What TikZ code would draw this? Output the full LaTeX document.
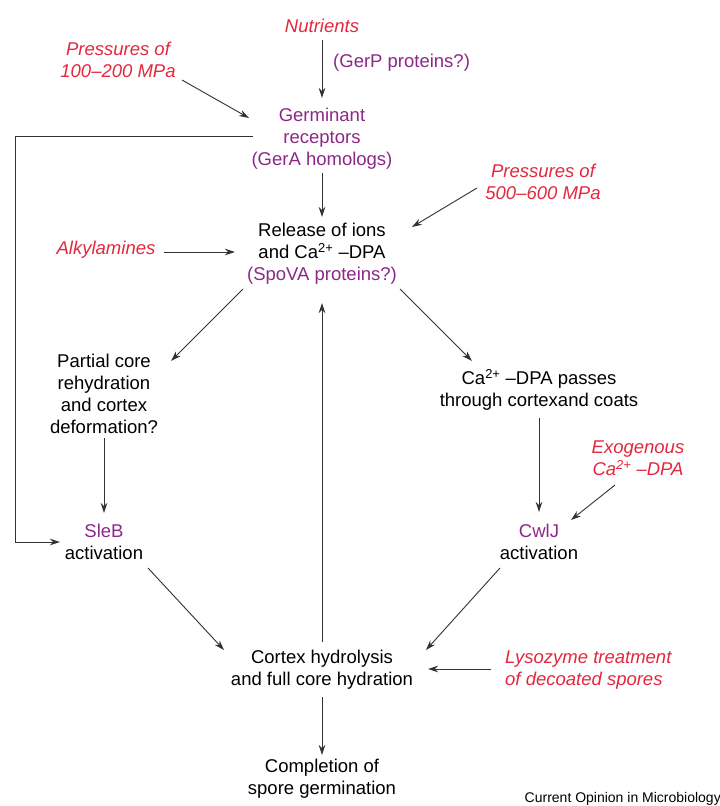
\documentclass[tikz,border=0pt]{standalone}
\usepackage{fontspec}
\setmainfont{Liberation Sans}
\usetikzlibrary{calc,arrows.meta}
\definecolor{redtxt}{RGB}{228,40,62}
\definecolor{purptxt}{RGB}{140,40,135}
\definecolor{linec}{RGB}{50,50,50}
\begin{document}
\begin{tikzpicture}[x=1pt,y=-1pt,
  lbl/.style={inner sep=0pt,align=center,font=\fontsize{18.5}{22}\selectfont},
  redlbl/.style={lbl,text=redtxt,font=\fontsize{18.5}{22}\selectfont\itshape},
  purlbl/.style={lbl,text=purptxt},
  arr/.style={draw=linec,line width=0.9pt,-{Stealth[length=10pt,width=6.5pt]}}]
\fill[white] (0,0) rectangle (720,806);
\useasboundingbox (0,0) rectangle (720,806);

\node[redlbl] (nutr) at (322,26) {Nutrients};
\node[purlbl,anchor=west] (gerp) at (333,63) {(GerP proteins?)};
\node[redlbl] (p100) at (118,60) {Pressures of\\100–200 MPa};
\node[purlbl] (germ) at (322,139) {Germinant\\receptors\\(GerA homologs)};
\node[redlbl] (p500) at (543,182) {Pressures of\\500–600 MPa};
\node[lbl] (rel) at (322,254) {Release of ions\\and Ca\textsuperscript{2+} –DPA\\\textcolor{purptxt}{(SpoVA proteins?)}};
\node[redlbl] (alk) at (106,250) {Alkylamines};
\node[lbl] (part) at (104,394) {Partial core\\rehydration\\and cortex\\deformation?};
\node[lbl] (pass) at (539,390) {Ca\textsuperscript{2+} –DPA passes\\through cortexand coats};
\node[redlbl] (exo) at (638,458) {Exogenous\\Ca\textsuperscript{2+} –DPA};
\node[lbl] (sleb) at (104,542) {\textcolor{purptxt}{SleB}\\activation};
\node[lbl] (cwlj) at (539,542) {\textcolor{purptxt}{CwlJ}\\activation};
\node[lbl] (cort) at (322,670) {Cortex hydrolysis\\and full core hydration};
\node[redlbl,anchor=west,align=left] (lyso) at (505,670) {Lysozyme treatment\\of decoated spores};
\node[lbl] (comp) at (322,779) {Completion of\\spore germination};
\node[inner sep=0pt,anchor=east,font=\fontsize{14}{16}\selectfont] (cred) at (721,799) {Current Opinion in Microbiology};

\draw[arr] ($(nutr)+(0,14)$) -- ($(germ)+(0,-41)$);
\draw[arr] ($(p100)+(64,20)$) -- ($(germ)+(-73,-21)$);
\draw[arr] ($(germ)+(-69,-3)$) -- ($(germ)+(-307,-3)$) |- ($(sleb)+(-44,0)$);
\draw[arr] ($(germ)+(0,34)$) -- ($(rel)+(0,-37)$);
\draw[arr] ($(p500)+(-66,6)$) -- ($(rel)+(90,-27)$);
\draw[arr] ($(alk)+(58,2)$) -- ($(rel)+(-87,-2)$);
\draw[arr] ($(rel)+(-79,35)$) -- ($(part)+(67,-33)$);
\draw[arr] ($(rel)+(78,35)$) -- ($(pass)+(-67,-29)$);
\draw[arr] ($(part)+(0,44)$) -- ($(sleb)+(0,-29)$);
\draw[arr] ($(pass)+(0,28)$) -- ($(cwlj)+(0,-30)$);
\draw[arr] ($(exo)+(-23,27)$) -- ($(cwlj)+(32,-22)$);
\draw[arr] ($(sleb)+(44,26)$) -- ($(cort)+(-98,-20)$);
\draw[arr] ($(cwlj)+(-39,26)$) -- ($(cort)+(104,-20)$);
\draw[arr] ($(lyso.west)+(-14,-1)$) -- ($(cort)+(106,-1)$);
\draw[arr] ($(cort)+(0,-28)$) -- ($(rel)+(0,49)$);
\draw[arr] ($(cort)+(0,27)$) -- ($(comp)+(0,-24)$);
\end{tikzpicture}
\end{document}
